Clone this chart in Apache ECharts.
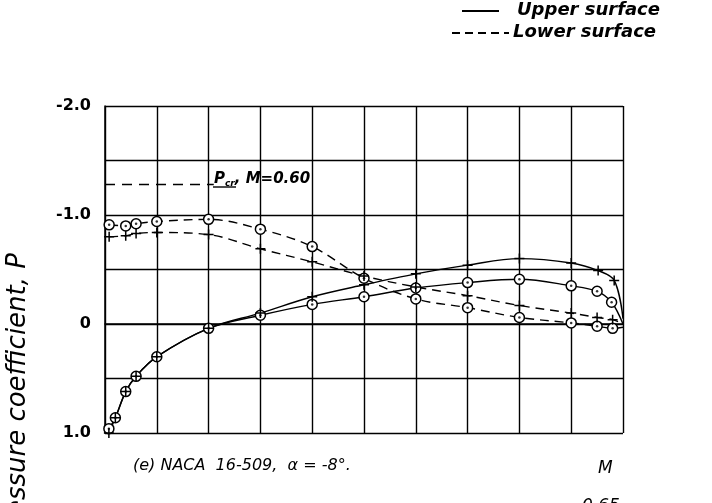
<!DOCTYPE html>
<html><head><meta charset="utf-8">
<script src="https://cdn.jsdelivr.net/npm/echarts@6/dist/echarts.min.js"></script>
<style>html,body{margin:0;padding:0;background:#fff}#c{width:712px;height:503px}</style>
</head><body><div id="c"></div>
<script>
// x = fraction of chord, P = pressure coefficient
const upperCircleX = [0.0075,0.02,0.04,0.06,0.10,0.20,0.30,0.40,0.50,0.60,0.70,0.80,0.90,0.95,0.978,1.0];
const upperCircleP = [0.96,0.86,0.62,0.48,0.30,0.04,-0.08,-0.18,-0.25,-0.33,-0.38,-0.41,-0.35,-0.30,-0.20,0.0];
const upperPlusX = [0.0075,0.02,0.04,0.06,0.10,0.20,0.30,0.40,0.50,0.60,0.70,0.80,0.90,0.952,0.983,1.0];
const upperPlusP = [1.0,0.86,0.62,0.48,0.30,0.04,-0.10,-0.25,-0.36,-0.46,-0.54,-0.60,-0.56,-0.49,-0.40,-0.05];
const lowerCircleX = [0.008,0.04,0.06,0.10,0.20,0.30,0.40,0.50,0.60,0.70,0.80,0.90,0.95,0.98,1.0];
const lowerCircleP = [-0.91,-0.90,-0.92,-0.94,-0.96,-0.87,-0.71,-0.42,-0.23,-0.15,-0.06,-0.01,0.02,0.04,0.03];
const lowerPlusX = [0.008,0.04,0.06,0.10,0.20,0.30,0.40,0.50,0.60,0.70,0.80,0.90,0.95,0.98,1.0];
const lowerPlusP = [-0.80,-0.81,-0.83,-0.84,-0.82,-0.69,-0.57,-0.44,-0.34,-0.26,-0.17,-0.10,-0.06,-0.04,0.0];
const pcrValue = -1.28;
const pcrX = [0, 0.21];
const yTickLabels = {'-2': '-2.0', '-1': '-1.0', '0': '0', '1': '1.0'};

function pts(xs, ps, lastNoSymbol) {
  return xs.map((x, i) => {
    const d = {value: [x, ps[i]]};
    if (lastNoSymbol && i === xs.length - 1) d.symbol = 'none';
    return d;
  });
}
const plusPath = 'path://M0,5L10,5M5,0L5,10';
const font = '"DejaVu Sans", sans-serif';

function lineSeries(xs, ps, dashed, marker) {
  return {
    type: 'line', data: pts(xs, ps, true), smooth: 0.35, z: 3,
    lineStyle: {color: '#000', width: 1.4, type: dashed ? [9, 6] : 'solid'},
    symbol: marker === 'circle' ? 'circle' : plusPath,
    symbolSize: 10,
    itemStyle: marker === 'circle'
      ? {color: '#fff', borderColor: '#000', borderWidth: 1.5}
      : {color: '#000', borderColor: '#000', borderWidth: 1.5},
    animation: false
  };
}
function dotSeries(xs, ps) {
  return {
    type: 'scatter', data: xs.slice(0, -1).map((x, i) => [x, ps[i]]), symbol: 'circle', symbolSize: 2.5,
    itemStyle: {color: '#000'}, z: 4, animation: false
  };
}

const chart = echarts.init(document.getElementById('c'));
chart.setOption({
  backgroundColor: '#fff',
  animation: false,
  grid: {left: 105, right: 89, top: 106, bottom: 70},
  xAxis: {
    type: 'value', min: 0, max: 1, interval: 0.1,
    axisLabel: {show: false}, axisTick: {show: false},
    axisLine: {show: true, lineStyle: {color: '#000', width: 1.5}},
    splitLine: {show: true, lineStyle: {color: '#000', width: 1.4}}
  },
  yAxis: {
    type: 'value', min: -2, max: 1, interval: 0.5, inverse: true,
    axisTick: {show: false},
    axisLine: {show: true, lineStyle: {color: '#000', width: 1.5}},
    splitLine: {show: true, lineStyle: {color: '#000', width: 1.4}},
    axisLabel: {
      color: '#000', fontFamily: font, fontSize: 16, fontWeight: 'bold', margin: 14,
      formatter: v => (yTickLabels[String(v)] !== undefined ? yTickLabels[String(v)] : '')
    }
  },
  series: [
    lineSeries(upperCircleX, upperCircleP, false, 'circle'),
    lineSeries(upperPlusX, upperPlusP, false, 'plus'),
    lineSeries(lowerCircleX, lowerCircleP, true, 'circle'),
    lineSeries(lowerPlusX, lowerPlusP, true, 'plus'),
    dotSeries(upperCircleX, upperCircleP),
    dotSeries(lowerCircleX, lowerCircleP),
    {
      type: 'line', data: pcrX.map(x => [x, pcrValue]), symbol: 'none', z: 2,
      lineStyle: {color: '#000', width: 1.6, type: [10, 7]}, animation: false
    }
  ],
  graphic: [
    {type: 'line', shape: {x1: 462, y1: 11, x2: 499, y2: 11}, style: {stroke: '#000', lineWidth: 2.2}},
    {type: 'text', left: 517, top: 1, style: {text: 'Upper surface', font: 'italic bold 18px ' + font, fill: '#000'}},
    {type: 'line', shape: {x1: 452, y1: 33, x2: 509, y2: 33}, style: {stroke: '#000', lineWidth: 2.2, lineDash: [8, 5]}},
    {type: 'text', left: 513, top: 23, style: {text: 'Lower surface', font: 'italic bold 18px ' + font, fill: '#000'}},
    {type: 'text', left: 214, top: 172, style: {
      rich: {
        p: {font: 'italic bold 15px ' + font, fill: '#000', textDecoration: 'underline'},
        s: {font: 'italic bold 9px ' + font, fill: '#000', padding: [8, 0, 0, 0]},
        t: {font: 'italic bold 15px ' + font, fill: '#000'}
      },
      text: '{p|P}{s|cr}{t|, M=0.60}'
    }},
    {type: 'line', shape: {x1: 213, y1: 187, x2: 236, y2: 187}, style: {stroke: '#000', lineWidth: 1.4}},
    {type: 'text', x: 18, y: 253, rotation: Math.PI / 2,
      style: {text: 'Pressure coefficient, P', font: 'italic 26px ' + font, fill: '#000', align: 'right', verticalAlign: 'middle'}},
    {type: 'text', left: 133, top: 458, style: {text: '(e) NACA  16-509,  \u03b1 = -8\u00b0.', font: 'italic 16px ' + font, fill: '#000'}},
    {type: 'text', left: 598, top: 460, style: {text: 'M', font: 'italic 17px ' + font, fill: '#000'}},
    {type: 'text', left: 582, top: 498, style: {text: '0.65', font: 'italic 17px ' + font, fill: '#000'}}
  ]
});
</script>
</body></html>
